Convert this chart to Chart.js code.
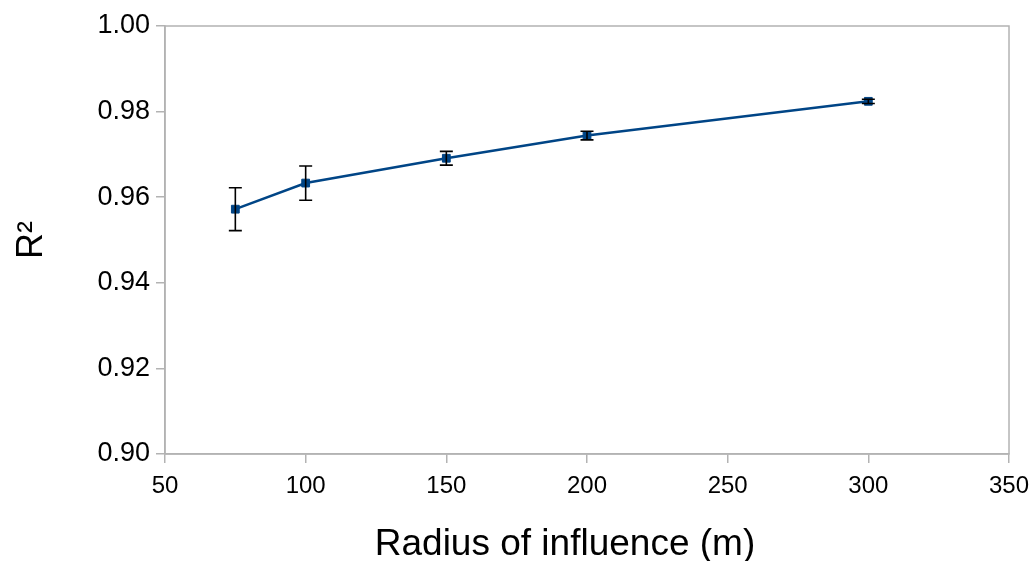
<!DOCTYPE html>
<html>
<head>
<meta charset="utf-8">
<script src="https://cdn.jsdelivr.net/npm/chart.js@4"></script>
<style>
  html, body { margin: 0; padding: 0; background: #fff; }
  #wrap { width: 1031px; height: 561px; }
</style>
</head>
<body>
<div id="wrap"><canvas id="grafica" width="1031" height="561"></canvas></div>
<script>
// Radio de influencia (m) y R² medio con su desviacion
const radios = [75, 100, 150, 200, 300];
const valoresR2 = [0.9572, 0.9633, 0.9691, 0.9744, 0.9824];
const errores = [0.0050, 0.0040, 0.0016, 0.0010, 0.0005];
const ticksX = [50, 100, 150, 200, 250, 300, 350];
const ticksY = [0.90, 0.92, 0.94, 0.96, 0.98, 1.00];
const tituloX = "Radius of influence (m)";

const colorLinea = "#004586";
const colorEje = "#b3b3b3";
const fuente = "'Liberation Sans', Arial, sans-serif";

// Barras de error dibujadas con las escalas del grafico
const barrasError = {
    id: "barrasError",
    afterDatasetsDraw(chart) {
        const ctx = chart.ctx;
        const sx = chart.scales.x;
        const sy = chart.scales.y;
        ctx.save();
        ctx.strokeStyle = "#000";
        ctx.lineWidth = 1.6;
        radios.forEach(function (r, i) {
            const px = sx.getPixelForValue(r);
            const arriba = sy.getPixelForValue(valoresR2[i] + errores[i]);
            const abajo = sy.getPixelForValue(valoresR2[i] - errores[i]);
            ctx.beginPath();
            ctx.moveTo(px, arriba);
            ctx.lineTo(px, abajo);
            ctx.moveTo(px - 6.5, arriba);
            ctx.lineTo(px + 6.5, arriba);
            ctx.moveTo(px - 6.5, abajo);
            ctx.lineTo(px + 6.5, abajo);
            ctx.stroke();
        });
        ctx.restore();
    }
};

// Marco gris alrededor del area de trazado
const marco = {
    id: "marco",
    beforeDatasetsDraw(chart) {
        const a = chart.chartArea;
        const ctx = chart.ctx;
        ctx.save();
        ctx.strokeStyle = colorEje;
        ctx.lineWidth = 1.5;
        ctx.strokeRect(a.left, a.top, a.right - a.left, a.bottom - a.top);
        ctx.restore();
    }
};

// Titulo del eje X, un poco a la izquierda del centro del area
const tituloEjeX = {
    id: "tituloEjeX",
    afterDraw(chart) {
        const a = chart.chartArea;
        const ctx = chart.ctx;
        ctx.save();
        ctx.fillStyle = "#000";
        ctx.font = "37px " + fuente;
        ctx.textAlign = "center";
        ctx.textBaseline = "alphabetic";
        ctx.fillText(tituloX, (a.left + a.right) / 2 - 22, chart.height - 6);
        ctx.restore();
    }
};

new Chart(document.getElementById("grafica").getContext("2d"), {
    type: "line",
    data: {
        datasets: [{
            data: radios.map((r, i) => ({ x: r, y: valoresR2[i] })),
            borderColor: colorLinea,
            backgroundColor: colorLinea,
            borderWidth: 2.5,
            pointStyle: "rect",
            pointRadius: 5.5,
            pointBorderWidth: 1,
            tension: 0
        }]
    },
    options: {
        responsive: false,
        animation: false,
        layout: { padding: { top: 26, right: 22, left: 0, bottom: 0 } },
        plugins: { legend: { display: false }, tooltip: { enabled: false } },
        scales: {
            x: {
                type: "linear",
                min: 50,
                max: 350,
                afterBuildTicks: s => { s.ticks = ticksX.map(v => ({ value: v })); },
                afterFit: s => { s.height = 107; s.paddingLeft = 0; s.paddingRight = 0; },
                grid: { drawOnChartArea: false, color: colorEje, lineWidth: 1.5, tickLength: 9 },
                border: { color: colorEje, width: 1.5 },
                ticks: { color: "#000", font: { family: fuente, size: 24 }, padding: 9, maxRotation: 0 }
            },
            y: {
                min: 0.9,
                max: 1.0,
                afterBuildTicks: s => { s.ticks = ticksY.map(v => ({ value: v })); },
                afterFit: s => { s.width = 165; s.paddingTop = 0; s.paddingBottom = 0; },
                grid: { drawOnChartArea: false, color: colorEje, lineWidth: 1.5, tickLength: 9 },
                border: { color: colorEje, width: 1.5 },
                ticks: {
                    color: "#000",
                    font: { family: fuente, size: 27 },
                    padding: 6,
                    callback: v => v.toFixed(2)
                },
                title: {
                    display: true,
                    text: "R²",
                    color: "#000",
                    font: { family: fuente, size: 36 },
                    padding: { top: 10, bottom: 0 }
                }
            }
        }
    },
    plugins: [marco, barrasError, tituloEjeX]
});
</script>
</body>
</html>
